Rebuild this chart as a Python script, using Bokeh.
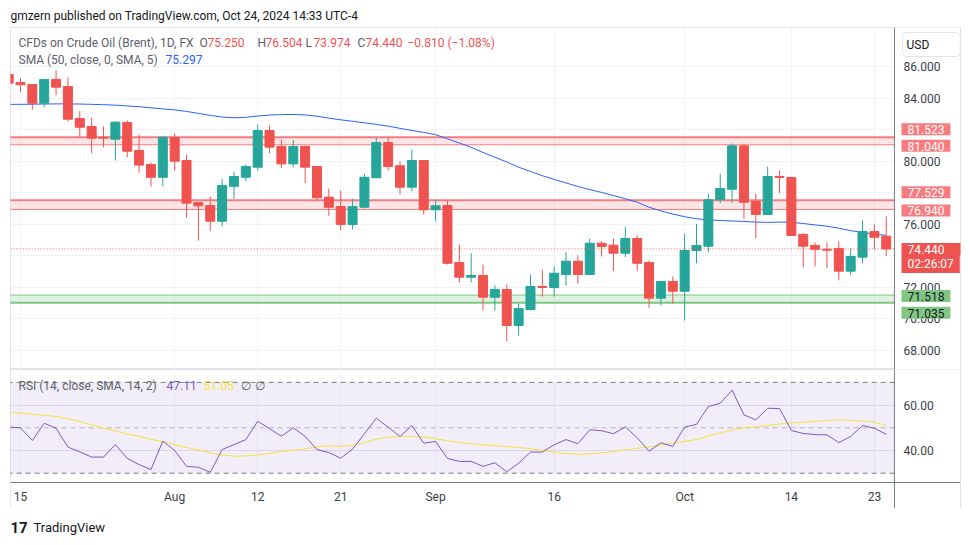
from bokeh.plotting import figure
from bokeh.layouts import column
from bokeh.models import (Range1d, FixedTicker, NumeralTickFormatter, Label, Span,
                          ColumnDataSource, Grid)
from bokeh.embed import file_html
from bokeh.resources import INLINE

# ---------------- data ----------------
bar_index = list(range(-1, 74))  # trading-day index, 0 = Jul 15 2024
opens = [85.49, 84.99, 84.86, 83.67, 85.18, 84.73, 82.70, 82.20, 81.52, 81.39,
         82.45, 80.68, 79.79, 78.98, 81.50, 80.04, 77.38, 77.19, 76.20, 78.41,
         78.98, 79.62, 81.94, 80.93, 79.83, 80.93, 79.66, 77.72, 77.13, 75.99,
         77.08, 78.95, 81.18, 79.71, 78.35, 80.04, 76.92, 77.19, 73.58, 72.65,
         72.76, 71.38, 71.87, 69.59, 70.60, 72.06, 71.99, 72.82, 73.66, 72.82,
         74.80, 74.68, 74.17, 75.10, 73.58, 71.32, 72.38, 71.76, 74.34, 74.61,
         77.55, 78.22, 80.97, 77.44, 76.62, 79.03, 78.97, 75.35, 74.66, 74.42,
         74.47, 73.03, 73.92, 75.54, 75.25]
highs = [85.60, 85.26, 84.86, 85.18, 85.75, 85.32, 83.17, 82.75, 82.20, 82.53,
         82.58, 81.69, 79.92, 81.56, 81.77, 80.42, 77.40, 77.76, 78.86, 79.35,
         79.79, 82.32, 82.26, 81.35, 81.35, 81.00, 79.71, 78.27, 78.14, 77.63,
         79.20, 81.48, 81.52, 79.98, 80.74, 80.04, 77.55, 77.51, 74.72, 74.17,
         73.45, 72.14, 72.19, 70.96, 72.82, 73.12, 73.33, 74.23, 74.04, 75.10,
         74.93, 75.10, 75.82, 75.31, 73.71, 72.40, 72.69, 75.40, 76.03, 77.93,
         79.20, 81.12, 81.12, 77.93, 79.66, 79.41, 78.97, 75.46, 74.85, 74.85,
         74.93, 74.47, 76.24, 76.00, 76.504]
lows = [84.85, 84.37, 83.27, 83.42, 84.18, 82.51, 81.56, 80.51, 80.89, 80.04,
        80.25, 79.28, 78.40, 78.40, 79.37, 76.41, 74.97, 75.56, 75.88, 77.59,
        78.73, 79.41, 80.51, 79.56, 79.62, 78.60, 77.51, 76.54, 75.61, 75.67,
        77.00, 78.95, 79.41, 77.89, 78.10, 76.62, 76.20, 73.45, 72.31, 72.31,
        70.54, 70.54, 68.59, 68.95, 70.54, 71.42, 71.42, 72.12, 72.25, 72.82,
        73.96, 73.03, 73.92, 73.03, 70.71, 70.85, 70.98, 69.90, 73.53, 74.23,
        77.34, 77.34, 76.32, 75.12, 76.62, 77.97, 75.29, 73.28, 73.34, 73.22,
        72.46, 72.78, 73.53, 74.40, 73.974]
closes = [84.94, 84.84, 83.67, 85.18, 84.69, 82.66, 82.15, 81.46, 81.46, 82.47,
          80.63, 79.75, 78.98, 81.52, 80.00, 77.34, 77.17, 76.20, 78.46, 79.03,
          79.66, 81.94, 80.89, 79.83, 80.93, 79.62, 77.68, 77.08, 75.99, 77.13,
          78.98, 81.18, 79.66, 78.35, 80.04, 76.92, 77.17, 73.53, 72.65, 72.76,
          71.38, 71.87, 69.59, 70.66, 72.06, 72.00, 72.90, 73.66, 72.82, 74.80,
          74.59, 74.17, 75.10, 73.53, 71.32, 72.38, 71.76, 74.34, 74.66, 77.55,
          78.27, 80.97, 77.40, 76.62, 79.03, 78.97, 75.29, 74.61, 74.42, 74.36,
          73.03, 73.96, 75.54, 75.18, 74.44]
sma50 = [83.60, 83.60, 83.61, 83.62, 83.63, 83.63, 83.62, 83.60, 83.58, 83.55,
         83.50, 83.45, 83.38, 83.31, 83.25, 83.15, 83.03, 82.90, 82.80, 82.75,
         82.78, 82.86, 82.92, 82.95, 82.96, 82.93, 82.85, 82.73, 82.62, 82.53,
         82.43, 82.33, 82.22, 82.08, 81.95, 81.82, 81.68, 81.42, 81.15, 80.88,
         80.55, 80.25, 79.95, 79.62, 79.35, 79.08, 78.85, 78.62, 78.40, 78.20,
         78.02, 77.82, 77.62, 77.40, 77.08, 76.85, 76.65, 76.48, 76.35, 76.28,
         76.24, 76.21, 76.18, 76.14, 76.12, 76.14, 76.13, 76.05, 75.96, 75.88,
         75.75, 75.60, 75.48, 75.38, 75.297]
rsi = [50.3, 50.0, 44.4, 52.0, 49.8, 41.5, 39.4, 37.1, 37.1, 42.6,
       36.5, 33.8, 31.6, 44.1, 40.0, 33.0, 32.6, 30.4, 40.4, 42.6,
       44.8, 52.9, 49.6, 46.3, 50.0, 46.2, 40.4, 39.1, 36.6, 40.6,
       47.4, 54.2, 50.3, 46.2, 51.0, 43.2, 44.0, 36.5, 35.2, 35.2,
       33.0, 34.6, 30.6, 34.4, 39.3, 39.3, 42.5, 44.8, 43.0, 49.1,
       48.7, 47.4, 50.4, 45.6, 39.7, 43.4, 41.8, 50.3, 51.5, 59.4,
       60.8, 66.6, 55.7, 53.5, 58.6, 58.5, 48.8, 47.5, 47.0, 46.9,
       43.5, 46.2, 51.0, 49.8, 47.11]
rsi_ma = [57.0, 56.5, 56.0, 55.5, 55.0, 54.0, 52.8, 51.3, 49.9, 48.5,
          47.3, 46.2, 45.0, 43.8, 42.6, 41.3, 40.3, 39.0, 38.0, 37.5,
          37.6, 38.0, 38.7, 39.5, 40.2, 40.8, 41.5, 42.1, 41.8, 42.3,
          43.5, 45.0, 45.8, 46.2, 46.3, 45.9, 45.2, 44.3, 43.6, 43.0,
          42.5, 42.1, 41.8, 41.3, 40.8, 40.0, 39.3, 38.7, 38.3, 38.5,
          38.9, 39.5, 40.3, 41.0, 41.6, 42.4, 43.2, 44.0, 44.8, 46.3,
          47.7, 49.0, 50.0, 50.4, 51.0, 51.7, 52.2, 52.4, 52.8, 53.2,
          53.5, 53.3, 53.0, 52.4, 51.05]

time_ticks = [0, 13, 20, 27, 35, 45, 56, 65, 72]
time_labels = ["15", "Aug", "12", "21", "Sep", "16", "Oct", "14", "23"]
price_ticks = [68, 70, 72, 74, 76, 78, 80, 82, 84, 86]
rsi_ticks = [40, 60]
rsi_levels = [70, 50, 30]
resistance_zones = [(81.040, 81.523), (76.940, 77.529)]
support_zone = (71.035, 71.518)
last_price = 74.440
countdown = "02:26:07"

# ---------------- styling / layout ----------------
FONT = "Roboto"
UP, DOWN = "#26a69a", "#ef5350"
GRID = "#f0f3fa"
TXT = "#131722"
GRAY = "#5d606b"
AXIS = "#787b86"
BORDER = "#e0e3eb"
RES = "#f77c80"
SUP = "#81c784"
W = 962
X_LO, X_HI, X_SEP = -0.843, 79.26, 73.69     # bars area, then the price-scale strip
P_LO, P_HI = 66.80, 88.47
R_LO, R_HI, R_STRIP = 14.45, 75.68, 25.9     # RSI pane incl. the time-scale strip below 25.9

colors = [UP if c >= o else DOWN for o, c in zip(opens, closes)]
src = ColumnDataSource(dict(
    x=bar_index, high=highs, low=lows, color=colors,
    top=[max(o, c) for o, c in zip(opens, closes)],
    bottom=[min(o, c) for o, c in zip(opens, closes)]))

xr = Range1d(X_LO, X_HI)


def lab(p, x, y, text, color, size="12px", style="normal", align="left", font=FONT, **kw):
    p.add_layout(Label(x=x, y=y, x_units=kw.pop("x_units", "screen"),
                       y_units=kw.pop("y_units", "screen"), text=text,
                       text_color=color, text_font=font, text_font_size=size,
                       text_font_style=style, text_align=align,
                       text_baseline="middle", **kw))


def bare(height):
    f = figure(width=W, height=height, x_range=(0, 1), y_range=(0, 1),
               output_backend="svg", toolbar_location=None, title=None,
               x_axis_location=None, y_axis_location=None,
               min_border_left=0, min_border_right=0, min_border_top=0, min_border_bottom=0)
    f.outline_line_color = None
    f.grid.grid_line_color = None
    return f


def style_axis(a, ticks, fmt=None, standoff=-57):
    a.ticker = FixedTicker(ticks=ticks)
    if fmt:
        a.formatter = NumeralTickFormatter(format=fmt)
    a.major_tick_line_color = None
    a.minor_tick_line_color = None
    a.major_tick_out = 0
    a.major_tick_in = 0
    a.major_label_standoff = standoff
    a.major_label_text_font = FONT
    a.major_label_text_font_size = "12px"
    a.major_label_text_color = "#3b3e48"


# ---------------- header ----------------
p0 = bare(27)
lab(p0, 0, 12, "gmzern published on TradingView.com, Oct 24, 2024 14:33 UTC-4", TXT, "12px")

# ---------------- price pane ----------------
p1 = figure(width=W, height=342, x_range=xr, y_range=Range1d(P_LO, P_HI),
            output_backend="svg", toolbar_location=None, title=None,
            x_axis_location=None, y_axis_location="right",
            min_border_left=10, min_border_right=2, min_border_top=0, min_border_bottom=0)
p1.outline_line_color = BORDER
p1.grid.grid_line_color = None
p1.add_layout(Grid(dimension=0, ticker=FixedTicker(ticks=time_ticks), grid_line_color=GRID))
p1.add_layout(Grid(dimension=1, ticker=FixedTicker(ticks=price_ticks), grid_line_color=GRID))
style_axis(p1.yaxis[0], price_ticks, "0.000")
p1.yaxis[0].axis_line_color = BORDER

# price-scale strip background
p1.quad(left=X_SEP, right=X_HI + 1, bottom=P_LO - 1, top=P_HI + 1, fill_color="white", line_color=None)

zl = [z[0] for z in resistance_zones]
zh = [z[1] for z in resistance_zones]
p1.quad(left=X_LO - 1, right=X_SEP, bottom=zl, top=zh, fill_color=RES, fill_alpha=0.2, line_color=None)
p1.segment(x0=X_LO - 1, x1=X_SEP, y0=zh, y1=zh, line_color=RES, line_width=2)
p1.segment(x0=X_LO - 1, x1=X_SEP, y0=zl, y1=zl, line_color=RES, line_width=1)
p1.quad(left=X_LO - 1, right=X_SEP, bottom=support_zone[0], top=support_zone[1],
        fill_color=SUP, fill_alpha=0.25, line_color=None)
p1.segment(x0=X_LO - 1, x1=X_SEP, y0=support_zone[1], y1=support_zone[1], line_color=SUP, line_width=1)
p1.segment(x0=X_LO - 1, x1=X_SEP, y0=support_zone[0], y1=support_zone[0], line_color=SUP, line_width=2)

p1.line(bar_index, sma50, line_color="#2962ff", line_width=1)
p1.segment(x0="x", y0="low", x1="x", y1="high", line_color="color", line_width=1, source=src)
p1.vbar(x="x", width=0.76, top="top", bottom="bottom", fill_color="color",
        line_color="color", line_width=1, source=src)
p1.segment(x0=X_LO - 1, x1=X_SEP, y0=last_price, y1=last_price, line_color=DOWN,
           line_width=1, line_dash="1 2")
p1.add_layout(Span(location=X_SEP, dimension="height", line_color=AXIS, line_width=1))

# legends (frame-relative screen coords)
lab(p1, 8, 327, "CFDs on Crude Oil (Brent), 1D, FX", GRAY)
seg = [("O", 189, f"{opens[-1]:.3f}"), ("H", 247, f"{highs[-1]:.3f}"),
       ("L", 295, f"{lows[-1]:.3f}"), ("C", 347, f"{closes[-1]:.3f}")]
for k, xx, v in seg:
    lab(p1, xx, 327, k, GRAY)
    lab(p1, xx + 8, 327, v, DOWN)
lab(p1, 397, 327, "\u22120.810 (\u22121.08%)", DOWN)
lab(p1, 8, 310, "SMA (50, close, 0, SMA, 5)", GRAY)
lab(p1, 155, 310, f"{sma50[-1]:.3f}", "#2962ff")

# USD button
lab(p1, 892, 325, "USD", TXT, border_line_color=BORDER, border_radius=4,
    background_fill_color="white", padding=dict(left=4, right=31, top=5, bottom=5))

# price-scale tags
tag_pad = dict(left=6, right=6, top=2, bottom=1)
for (lo, hi) in resistance_zones:
    lab(p1, 891, hi, f"{hi:.3f}", "white", y_units="data", y_offset=8,
        background_fill_color=RES, padding=tag_pad)
    lab(p1, 891, lo, f"{lo:.3f}", "white", y_units="data", y_offset=-1,
        background_fill_color=RES, padding=tag_pad)
lab(p1, 891, support_zone[1], f"{support_zone[1]:.3f}", TXT, y_units="data", y_offset=-1,
    background_fill_color=SUP, padding=tag_pad)
lab(p1, 891, support_zone[0], f"{support_zone[0]:.3f}", TXT, y_units="data", y_offset=-10,
    background_fill_color=SUP, padding=tag_pad)
lab(p1, 891, last_price, f"{last_price:.3f}", "white", y_units="data", y_offset=0,
    background_fill_color=DOWN, padding=dict(left=6, right=17, top=2, bottom=1))
lab(p1, 891, last_price, countdown, "white", y_units="data", y_offset=-15,
    background_fill_color=DOWN, padding=dict(left=6, right=6, top=2, bottom=2))

# ---------------- RSI pane + time scale ----------------
p2 = figure(width=W, height=139, x_range=xr, y_range=Range1d(R_LO, R_HI),
            output_backend="svg", toolbar_location=None, title=None,
            y_axis_location="right",
            min_border_left=10, min_border_right=2, min_border_top=0, min_border_bottom=0)
p2.outline_line_color = BORDER
p2.grid.grid_line_color = None
p2.add_layout(Grid(dimension=0, ticker=FixedTicker(ticks=time_ticks), grid_line_color=GRID))
p2.add_layout(Grid(dimension=1, ticker=FixedTicker(ticks=rsi_ticks), grid_line_color="#e6e2f3"))
p2.quad(left=X_SEP, right=X_HI + 1, bottom=R_LO - 1, top=R_HI + 1, fill_color="white", line_color=None)
p2.quad(left=X_LO, right=X_HI, bottom=R_LO - 1, top=R_STRIP, fill_color="white", line_color=None)
p2.quad(left=X_LO - 1, right=X_SEP, bottom=min(rsi_levels), top=max(rsi_levels),
        fill_color="#7e57c2", fill_alpha=0.1, line_color=None)
p2.segment(x0=X_LO - 1, x1=X_SEP, y0=rsi_levels, y1=rsi_levels, line_color=AXIS,
           line_alpha=[1.0, 0.5, 1.0], line_width=1, line_dash="5 4")
p2.line(bar_index, rsi_ma, line_color="#f5e23a", line_width=1)
p2.line(bar_index, rsi, line_color="#7e57c2", line_width=1)
p2.add_layout(Span(location=X_SEP, dimension="height", line_color=AXIS, line_width=1))
p2.add_layout(Span(location=R_STRIP, dimension="width", line_color=AXIS, line_width=1))

style_axis(p2.yaxis[0], rsi_ticks, "0.00")
p2.yaxis[0].axis_line_color = BORDER
axx = p2.xaxis[0]
style_axis(axx, time_ticks, None, standoff=-19)
axx.major_label_overrides = {t: l for t, l in zip(time_ticks, time_labels)}
axx.axis_line_color = BORDER

lab(p2, 8, 123, "RSI (14, close, SMA, 14, 2)", GRAY)
lab(p2, 156, 123, f"{rsi[-1]:.2f}", "#7e57c2")
lab(p2, 193, 123, f"{rsi_ma[-1]:.2f}", "#f5e23a")
lab(p2, 230, 123, "\u2205", GRAY)
lab(p2, 244, 123, "\u2205", GRAY)

# ---------------- footer ----------------
p3 = bare(36)
lab(p3, 0, 17, "17", "#131722", "15px", "bold")
lab(p3, 23, 17, "TradingView", TXT, "13px")

layout = column(p0, p1, p2, p3, spacing=0)
open("out.html", "w").write(file_html(layout, INLINE))
